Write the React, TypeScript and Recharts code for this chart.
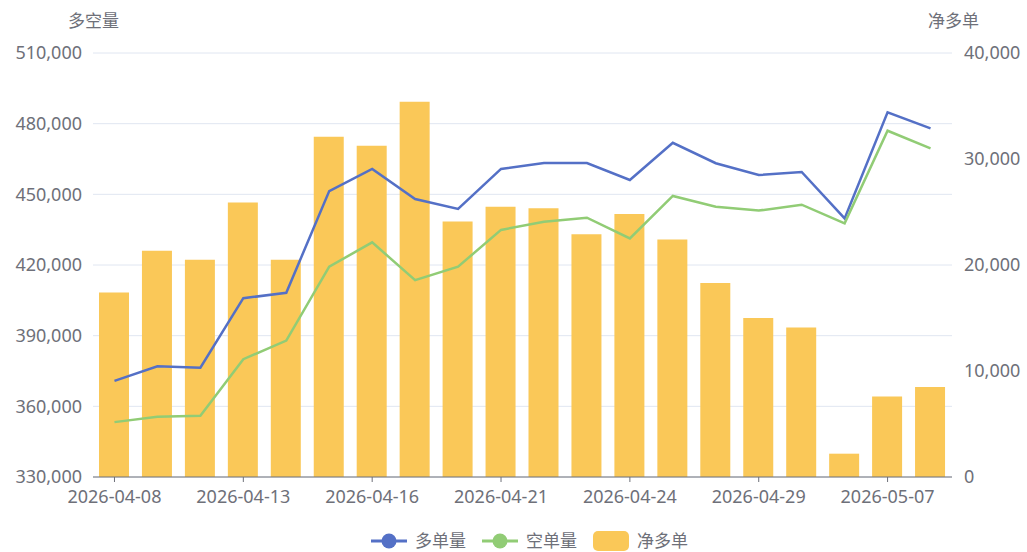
import React from 'react';
import {
  ComposedChart, Bar, Line, XAxis, YAxis, CartesianGrid
} from 'recharts';

const dates = [
  '2026-04-08', '2026-04-09', '2026-04-10', '2026-04-13', '2026-04-14',
  '2026-04-15', '2026-04-16', '2026-04-17', '2026-04-20', '2026-04-21',
  '2026-04-22', '2026-04-23', '2026-04-24', '2026-04-27', '2026-04-28',
  '2026-04-29', '2026-04-30', '2026-05-06', '2026-05-07', '2026-05-08',
];

// 多单量
const longVol = [
  370800, 377000, 376400, 405900, 408200, 451400, 460800, 448000, 443800, 460800,
  463300, 463300, 456100, 471900, 463200, 458200, 459500, 439800, 484800, 478000,
];

// 空单量
const shortVol = [
  353300, 355600, 356000, 380000, 387900, 419300, 429600, 413600, 419300, 434900,
  438400, 440100, 431300, 449300, 444700, 443100, 445600, 437700, 477000, 469500,
];

// 净多单
const netLong = [
  17400, 21350, 20500, 25900, 20500, 32100, 31250, 35400, 24100, 25500,
  25350, 22900, 24800, 22400, 18300, 15000, 14100, 2200, 7600, 8500,
];

const leftTicks = [330000, 360000, 390000, 420000, 450000, 480000, 510000];
const rightTicks = [0, 10000, 20000, 30000, 40000];

const data = dates.map((d, i) => ({
  date: d,
  long: longVol[i],
  short: shortVol[i],
  net: netLong[i],
}));

const FONT = '"Noto Sans", "Noto Sans CJK SC", sans-serif';
const TEXT = '#6e7079';
const fmt = (v: number) => v.toLocaleString('en-US');

const legendItems = [
  { name: '多单量', color: '#5470c6', type: 'line' },
  { name: '空单量', color: '#91cc75', type: 'line' },
  { name: '净多单', color: '#fac858', type: 'rect' },
];

const App: React.FC = () => {
  const tickStyle = { fill: TEXT, fontSize: 18, fontFamily: FONT };
  return (
    <div style={{ position: 'relative', width: 1027, height: 552, fontFamily: FONT }}>
      <style>{'body{margin:0}'}</style>

      {/* axis names */}
      <span style={{ position: 'absolute', left: 68, top: 7, fontSize: 17, color: TEXT }}>多空量</span>
      <span style={{ position: 'absolute', left: 928, top: 7, fontSize: 17, color: TEXT }}>净多单</span>

      <ComposedChart
        width={1027}
        height={552}
        data={data}
        margin={{ top: 53, right: 0, left: 0, bottom: 45 }}
      >
        <CartesianGrid yAxisId="left" vertical={false} stroke="#e0e6f1" />
        <XAxis
          dataKey="date"
          interval={2}
          height={30}
          tick={tickStyle}
          tickSize={5}
          tickMargin={8}
          stroke={TEXT}
          tickLine={{ stroke: TEXT }}
          axisLine={{ stroke: TEXT }}
        />
        <YAxis
          yAxisId="left"
          orientation="left"
          width={93}
          domain={[330000, 510000]}
          ticks={leftTicks}
          tickFormatter={fmt}
          tick={tickStyle}
          axisLine={false}
          tickLine={false}
          tickSize={0}
          tickMargin={11}
        />
        <YAxis
          yAxisId="right"
          orientation="right"
          width={75}
          domain={[0, 40000]}
          ticks={rightTicks}
          tickFormatter={fmt}
          tick={{ ...tickStyle, textAnchor: 'start' }}
          axisLine={false}
          tickLine={false}
          tickSize={0}
          tickMargin={12}
        />
        <Bar yAxisId="right" dataKey="net" name="净多单" fill="#fac858" barSize={30} isAnimationActive={false} />
        <Line yAxisId="left" dataKey="long" name="多单量" stroke="#5470c6" strokeWidth={2.5} dot={false} isAnimationActive={false} />
        <Line yAxisId="left" dataKey="short" name="空单量" stroke="#91cc75" strokeWidth={2.5} dot={false} isAnimationActive={false} />
      </ComposedChart>

      {/* legend */}
      <div style={{ position: 'absolute', left: 16, top: 530, width: 1027, display: 'flex', justifyContent: 'center', gap: 16 }}>
        {legendItems.map(it => (
          <div key={it.name} style={{ display: 'flex', alignItems: 'center', gap: 8, fontSize: 17, color: TEXT, lineHeight: '22px' }}>
            {it.type === 'line' ? (
              <svg width={36} height={20}>
                <line x1={0} y1={10} x2={36} y2={10} stroke={it.color} strokeWidth={3} />
                <circle cx={18} cy={10} r={7.5} fill={it.color} />
              </svg>
            ) : (
              <svg width={36} height={20}>
                <rect x={0} y={0} width={36} height={20} rx={5} fill={it.color} />
              </svg>
            )}
            <span>{it.name}</span>
          </div>
        ))}
      </div>
    </div>
  );
};

export default App;
